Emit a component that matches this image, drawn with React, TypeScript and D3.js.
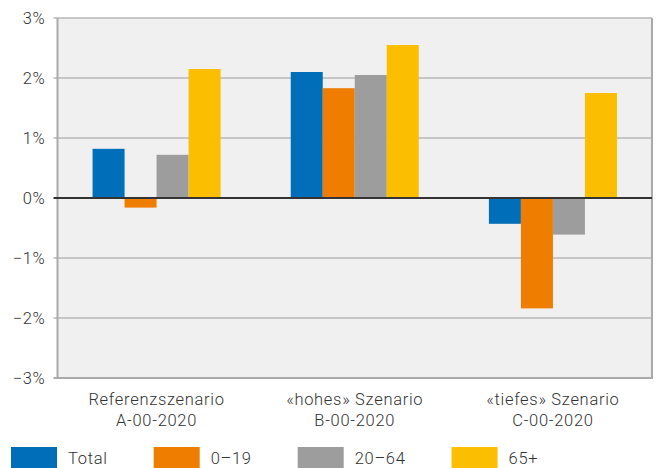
import { useEffect, useRef } from 'react';
import * as d3 from 'd3';

const scenarios = [
  ['Referenzszenario', 'A-00-2020'],
  ['«hohes» Szenario', 'B-00-2020'],
  ['«tiefes» Szenario', 'C-00-2020']
];
const groups = ['Total', '0–19', '20–64', '65+'];
const colors = ['#006EB9', '#EF7D00', '#9D9D9D', '#FBBE00'];

// values in %
const totalValues = [0.82, 2.1, -0.43];
const youngValues = [-0.16, 1.83, -1.84];
const adultValues = [0.72, 2.05, -0.61];
const seniorValues = [2.15, 2.55, 1.75];

const yTicks = [-3, -2, -1, 0, 1, 2, 3];

export default function App() {
  const svgRef = useRef<SVGSVGElement>(null);

  useEffect(() => {
    if (!svgRef.current) return;
    const svg = d3.select(svgRef.current);
    svg.selectAll('*').remove();

    const W = 657;
    const H = 468;
    const margin = { top: 18, right: 5, bottom: 90, left: 57.5 };
    const width = W - margin.left - margin.right;
    const height = H - margin.top - margin.bottom;
    const font = 'Roboto, sans-serif';
    const textColor = '#333333';
    const fs = 16.5;
    const ls = 0.7;

    svg.attr('width', W).attr('height', H);
    const g = svg.append('g').attr('transform', `translate(${margin.left},${margin.top})`);

    const series = [totalValues, youngValues, adultValues, seniorValues];
    const data = scenarios.map((s, i) => ({
      key: s[0],
      values: groups.map((grp, j) => ({ grp, value: series[j][i], color: colors[j] }))
    }));

    const x0 = d3.scaleBand().domain(scenarios.map((s) => s[0])).range([0, width]).padding(0);
    const x1 = d3
      .scaleBand()
      .domain(groups)
      .range([x0.bandwidth() * 0.177, x0.bandwidth() * 0.823])
      .padding(0);
    const y = d3.scaleLinear().domain([-3, 3]).range([height, 0]);

    // background
    g.append('rect').attr('width', width).attr('height', height).attr('fill', '#f0f0f0');

    // gridlines
    g.selectAll('.grid')
      .data(yTicks.filter((t) => t !== 0 && t !== -3))
      .enter()
      .append('line')
      .attr('x1', -4)
      .attr('x2', width)
      .attr('y1', (d) => y(d))
      .attr('y2', (d) => y(d))
      .attr('stroke', '#b9b9b9')
      .attr('stroke-width', 1.5);

    // bars
    const grp = g
      .selectAll('.grp')
      .data(data)
      .enter()
      .append('g')
      .attr('transform', (d) => `translate(${x0(d.key)},0)`);

    grp
      .selectAll('rect')
      .data((d) => d.values)
      .enter()
      .append('rect')
      .attr('x', (d) => x1(d.grp)!)
      .attr('width', x1.bandwidth())
      .attr('y', (d) => y(Math.max(0, d.value)))
      .attr('height', (d) => Math.abs(y(d.value) - y(0)))
      .attr('fill', (d) => d.color);

    // frame: left, right, bottom
    g.append('line')
      .attr('x1', 0).attr('x2', 0).attr('y1', y(3)).attr('y2', height)
      .attr('stroke', '#aaaaaa').attr('stroke-width', 2);
    g.append('line')
      .attr('x1', width).attr('x2', width).attr('y1', y(3)).attr('y2', height)
      .attr('stroke', '#aaaaaa').attr('stroke-width', 2);
    g.append('line')
      .attr('x1', -4).attr('x2', width + 1).attr('y1', height).attr('y2', height)
      .attr('stroke', '#aaaaaa').attr('stroke-width', 2);

    // zero line
    g.append('line')
      .attr('x1', -4).attr('x2', width)
      .attr('y1', y(0)).attr('y2', y(0))
      .attr('stroke', '#333333').attr('stroke-width', 2);

    // y labels
    g.selectAll('.ylab')
      .data(yTicks)
      .enter()
      .append('text')
      .attr('x', -12)
      .attr('y', (d) => y(d))
      .attr('dy', '0.36em')
      .attr('text-anchor', 'end')
      .attr('font-family', font)
      .attr('font-weight', 300)
      .attr('font-size', fs)
      .attr('letter-spacing', ls)
      .attr('fill', textColor)
      .text((d) => `${d < 0 ? '−' : ''}${Math.abs(d)}%`);

    // category labels
    scenarios.forEach((s) => {
      const cx = x0(s[0])! + x0.bandwidth() / 2;
      s.forEach((line, k) => {
        g.append('text')
          .attr('x', cx)
          .attr('y', height + 27 + k * 21)
          .attr('text-anchor', 'middle')
          .attr('font-family', font)
          .attr('font-weight', 300)
          .attr('font-size', fs)
          .attr('letter-spacing', ls)
          .attr('fill', textColor)
          .text(line);
      });
    });

    // legend
    const legend = svg.append('g');
    let lx = 11;
    groups.forEach((name, i) => {
      legend.append('rect')
        .attr('x', lx).attr('y', 447).attr('width', 46).attr('height', 21)
        .attr('fill', colors[i]);
      const t = legend.append('text')
        .attr('x', lx + 57)
        .attr('y', 464)
        .attr('font-family', font)
        .attr('font-weight', 300)
        .attr('font-size', fs)
        .attr('letter-spacing', ls)
        .attr('fill', textColor)
        .text(name);
      const tw = (t.node() as SVGTextElement).getComputedTextLength();
      lx = lx + 57 + tw + 46;
    });
  }, []);

  return (
    <div style={{ position: 'absolute', left: 0, top: 0 }}>
      <svg ref={svgRef} style={{ display: 'block' }} />
    </div>
  );
}
